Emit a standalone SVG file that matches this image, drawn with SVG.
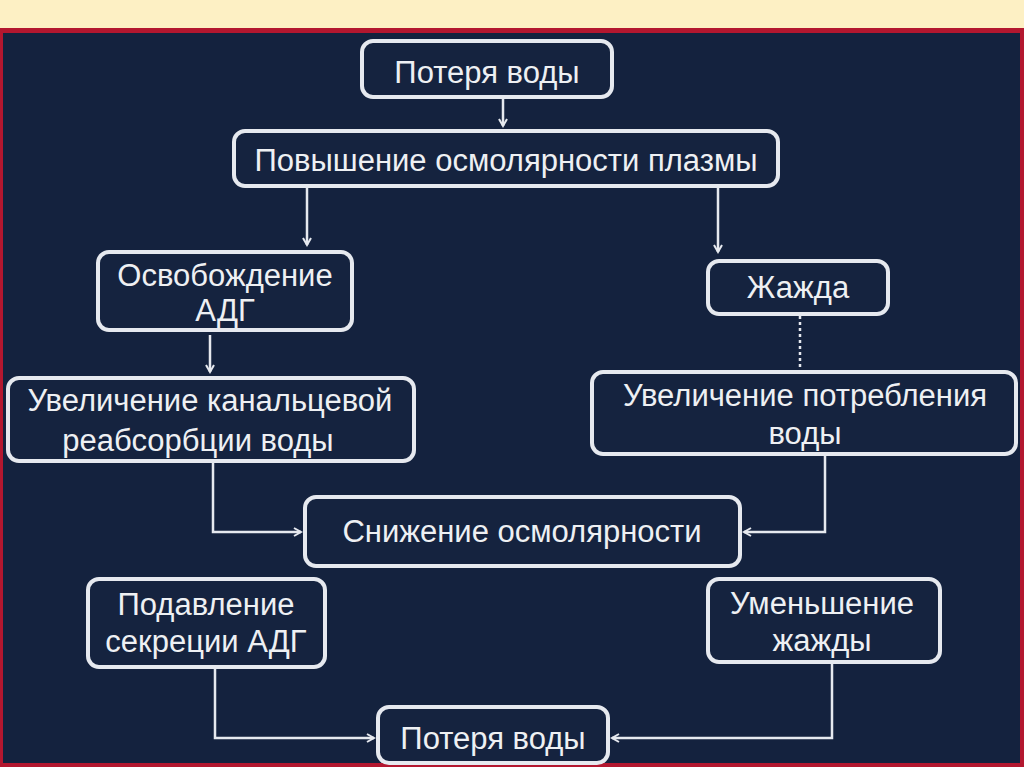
<svg xmlns="http://www.w3.org/2000/svg" width="1024" height="767" viewBox="0 0 1024 767">
<defs>
<style>
.box{fill:#15233f;stroke:#e6e9ef;stroke-width:4}
.t{font-family:"Liberation Sans",Arial,sans-serif;font-size:31px;fill:#eef0f3;text-anchor:middle}
.c{fill:none;stroke:#e6e9ef;stroke-width:2.5}
</style>
<marker id="ah" markerWidth="10" markerHeight="10" refX="8" refY="5" orient="auto" markerUnits="userSpaceOnUse">
<path d="M1,1 L8,5 L1,9" fill="none" stroke="#e6e9ef" stroke-width="2"/>
</marker>
</defs>
<rect x="0" y="0" width="1024" height="767" fill="#b3172f"/>
<rect x="0" y="0" width="1024" height="28" fill="#fdf0c4"/>
<rect x="3" y="33" width="1017" height="730" fill="#14223e"/>

<g id="connectors">
<path class="c" d="M503,98 V126" marker-end="url(#ah)"/>
<path class="c" d="M307,188 V245" marker-end="url(#ah)"/>
<path class="c" d="M718,188 V252" marker-end="url(#ah)"/>
<path class="c" d="M210,335 V372" marker-end="url(#ah)"/>
<path class="c" d="M800,316 V368" stroke-dasharray="3,3"/>
<path class="c" d="M213,461 V532 H301" marker-end="url(#ah)"/>
<path class="c" d="M825,455 V532 H744" marker-end="url(#ah)"/>
<path class="c" d="M215,668 V738 H374" marker-end="url(#ah)"/>
<path class="c" d="M832,662 V738 H612" marker-end="url(#ah)"/>
</g>

<g id="n1"><rect class="box" x="362" y="41" width="250" height="56" rx="11"/><text class="t" x="487" y="83">Потеря воды</text></g>
<g id="n2"><rect class="box" x="234" y="131" width="544" height="55" rx="11"/><text class="t" x="506" y="171">Повышение осмолярности плазмы</text></g>
<g id="n3"><rect class="box" x="98" y="252" width="254" height="78" rx="11"/><text class="t" x="225" y="286">Освобождение</text><text class="t" x="225" y="321">АДГ</text></g>
<g id="n4"><rect class="box" x="708" y="261" width="180" height="53" rx="11"/><text class="t" x="798" y="298">Жажда</text></g>
<g id="n5"><rect class="box" x="8" y="378" width="406" height="83" rx="11"/><text class="t" x="210" y="411">Увеличение канальцевой</text><text class="t" x="198" y="451">реабсорбции воды</text></g>
<g id="n6"><rect class="box" x="592" y="372" width="424" height="82" rx="11"/><text class="t" x="805" y="406">Увеличение потребления</text><text class="t" x="805" y="444">воды</text></g>
<g id="n7"><rect class="box" x="305" y="497" width="435" height="69" rx="11"/><text class="t" x="522" y="542">Снижение осмолярности</text></g>
<g id="n8"><rect class="box" x="88" y="579" width="237" height="88" rx="11"/><text class="t" x="206" y="615">Подавление</text><text class="t" x="206" y="652">секреции АДГ</text></g>
<g id="n9"><rect class="box" x="708" y="579" width="232" height="83" rx="11"/><text class="t" x="822" y="614">Уменьшение</text><text class="t" x="822" y="651">жажды</text></g>
<g id="n10"><rect class="box" x="378" y="707" width="230" height="56" rx="11"/><text class="t" x="493" y="749">Потеря воды</text></g>
</svg>
